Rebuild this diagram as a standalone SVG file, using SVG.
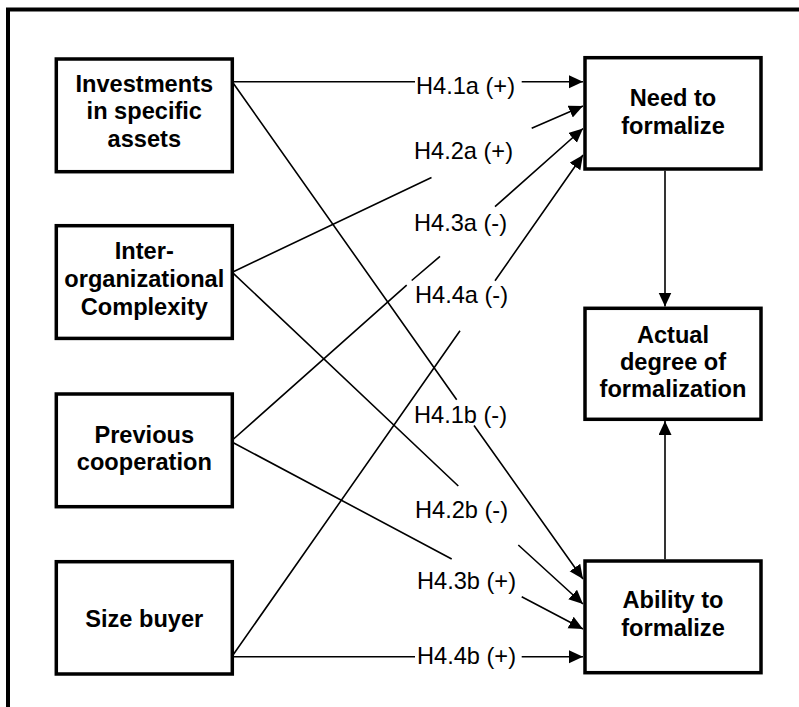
<svg xmlns="http://www.w3.org/2000/svg" width="799" height="707" viewBox="0 0 799 707">
<defs>
<marker id="arr" markerUnits="userSpaceOnUse" markerWidth="15" markerHeight="14" refX="14" refY="6.5" orient="auto">
<path d="M0,0 L14,6.5 L0,13 z" fill="#000"/>
</marker>
<style>
.box{fill:#fff;stroke:#000;stroke-width:3.5}
.t{font-family:"Liberation Sans",Arial,sans-serif;font-size:23.6px;font-weight:bold;text-anchor:middle;fill:#000}
.lbl{font-family:"Liberation Sans",Arial,sans-serif;font-size:23.6px;fill:#000}
.c{fill:none;stroke:#000;stroke-width:1.6;marker-end:url(#arr)}
</style>
</defs>
<rect x="0" y="0" width="799" height="707" fill="#fff"/>
<rect x="8" y="9.5" width="900" height="900" fill="none" stroke="#000" stroke-width="4"/>
<g id="connectors">
<path class="c" d="M233,81.7 L415,81.7 M521.7,81.7 L583,81.7"/>
<path class="c" d="M233.3,271.7 L431.5,177.5 M531.7,128.3 L583,106"/>
<path class="c" d="M233,439.5 L406.7,285.2 M411.7,280.5 L440,256.3 M495,206.7 L583,128.5"/>
<path class="c" d="M233,655 L460,330.7 M495,280.7 L583,155"/>
<path class="c" d="M233.3,83.3 L456.7,399.7 M474,425.5 L583,579"/>
<path class="c" d="M233.3,273.3 L458.3,486 M518.3,545 L583,604"/>
<path class="c" d="M233.3,442.7 L451.7,559 M521.7,596.7 L583,629"/>
<path class="c" d="M233,656.7 L415,656.7 M521.7,656.7 L583,656.7"/>
<path class="c" d="M665,170.8 L665,306.5"/>
<path class="c" d="M665,559.3 L665,421"/>
</g>
<g id="labels">
<text class="lbl" x="416" y="93.5">H4.1a (+)</text>
<text class="lbl" x="414" y="159">H4.2a (+)</text>
<text class="lbl" x="414" y="231">H4.3a (-)</text>
<text class="lbl" x="415" y="302.5">H4.4a (-)</text>
<text class="lbl" x="414" y="422.5">H4.1b (-)</text>
<text class="lbl" x="415" y="517.5">H4.2b (-)</text>
<text class="lbl" x="417" y="589">H4.3b (+)</text>
<text class="lbl" x="417" y="664">H4.4b (+)</text>
</g>
<g id="investments">
<rect class="box" x="56.3" y="59" width="176" height="112.7"/>
<text class="t" x="144.3" y="91.7">Investments</text>
<text class="t" x="144.3" y="119.3">in specific</text>
<text class="t" x="144.3" y="146.7">assets</text>
</g>
<g id="complexity">
<rect class="box" x="56.3" y="225.7" width="176" height="112.7"/>
<text class="t" x="144.3" y="259.3">Inter-</text>
<text class="t" x="144.3" y="287.3">organizational</text>
<text class="t" x="144.3" y="315">Complexity</text>
</g>
<g id="previous">
<rect class="box" x="56.3" y="394" width="176" height="112.7"/>
<text class="t" x="144.3" y="442.7">Previous</text>
<text class="t" x="144.3" y="470">cooperation</text>
</g>
<g id="size">
<rect class="box" x="56.3" y="561.7" width="176" height="112.3"/>
<text class="t" x="144.3" y="626.7">Size buyer</text>
</g>
<g id="need">
<rect class="box" x="585" y="57.7" width="176" height="111.3"/>
<text class="t" x="673" y="106">Need to</text>
<text class="t" x="673" y="134.3">formalize</text>
</g>
<g id="actual">
<rect class="box" x="585" y="308.3" width="176" height="111"/>
<text class="t" x="673" y="342.5">Actual</text>
<text class="t" x="673" y="370">degree of</text>
<text class="t" x="673" y="397.3">formalization</text>
</g>
<g id="ability">
<rect class="box" x="585" y="561" width="176" height="111.7"/>
<text class="t" x="673" y="608.3">Ability to</text>
<text class="t" x="673" y="636">formalize</text>
</g>
</svg>
